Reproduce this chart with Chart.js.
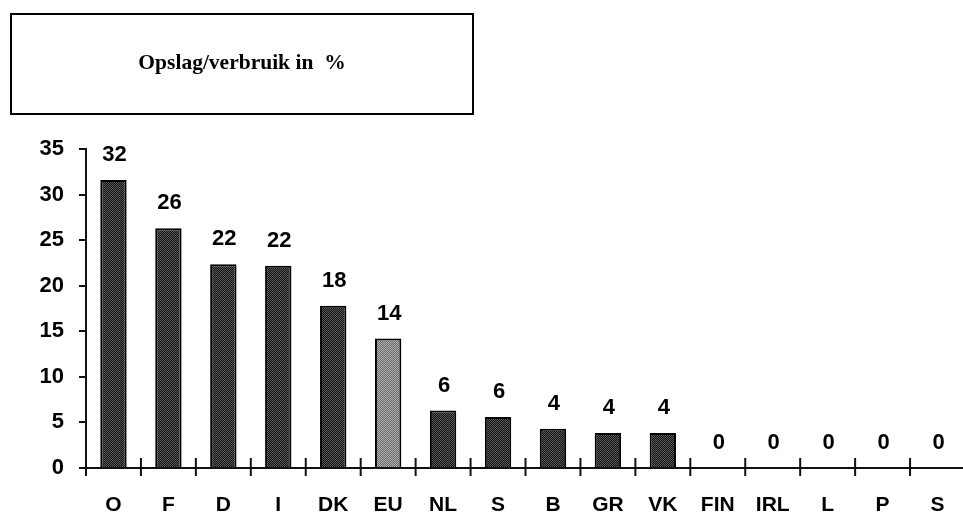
<!DOCTYPE html>
<html>
<head>
<meta charset="utf-8">
<script src="https://cdn.jsdelivr.net/npm/chart.js@4/dist/chart.umd.min.js"></script>
<style>
  html,body{margin:0;padding:0;background:#fff;overflow:hidden;}
  #wrap{position:absolute;left:0;top:0;width:990px;height:512px;}
  #titleBox{position:absolute;left:10px;top:13px;width:460px;height:94px;border:2px solid #000;
    display:flex;align-items:center;justify-content:center;padding-bottom:4px;box-sizing:content-box;
    font-family:"Liberation Serif","Times New Roman",serif;font-weight:bold;font-size:21.5px;color:#000;}
</style>
</head>
<body>
<div id="wrap"><canvas id="chartCanvas" width="990" height="512"></canvas></div>
<div id="titleBox">Opslag/verbruik in&nbsp; %</div>
<script>
// data
const categories = ['O','F','D','I','DK','EU','NL','S','B','GR','VK','FIN','IRL','L','P','S'];
const values     = [31.6, 26.3, 22.35, 22.2, 17.8, 14.2, 6.3, 5.6, 4.3, 3.85, 3.85, 0, 0, 0, 0, 0];
const valueLabels= ['32','26','22','22','18','14','6','6','4','4','4','0','0','0','0','0'];
const yTicks     = [0,5,10,15,20,25,30,35];
const highlight  = 'EU';

// dithered fill like the scanned original
function dither(a, b){
  const c = document.createElement('canvas');
  c.width = 2; c.height = 2;
  const g = c.getContext('2d');
  g.fillStyle = a; g.fillRect(0,0,2,2);
  g.fillStyle = b; g.fillRect(0,0,1,1); g.fillRect(1,1,1,1);
  return g.createPattern(c, 'repeat');
}
const darkFill  = dither('#111', '#5a5a5a');
const lightFill = dither('#6a6a6a', '#b0b0b0');

const FONT = '"Liberation Sans", Arial, sans-serif';

// tick marks crossing the x axis at category boundaries + value labels
const extras = {
  id: 'extras',
  afterDatasetsDraw(chart){
    const ctx = chart.ctx;
    const x = chart.scales.x, y = chart.scales.y;
    const y0 = y.getPixelForValue(0);
    const step = x.getPixelForValue(1) - x.getPixelForValue(0);
    ctx.save();
    ctx.strokeStyle = '#111';
    ctx.lineWidth = 2;
    for(let i = 0; i < categories.length; i++){
      const bx = x.getPixelForValue(i) - step/2;
      ctx.beginPath();
      ctx.moveTo(bx, y0 - 10);
      ctx.lineTo(bx, y0 + 8);
      ctx.stroke();
    }
    ctx.fillStyle = '#000';
    ctx.font = 'bold 22px ' + FONT;
    ctx.textAlign = 'center';
    ctx.textBaseline = 'middle';
    chart.getDatasetMeta(0).data.forEach((bar, i)=>{
      ctx.fillText(valueLabels[i], bar.x + 1, bar.y - 25);
    });
    ctx.restore();
  }
};

new Chart(document.getElementById('chartCanvas').getContext('2d'), {
  type: 'bar',
  data: {
    labels: categories,
    datasets: [{
      data: values,
      backgroundColor: categories.map(c => c === highlight ? lightFill : darkFill),
      borderColor: '#000',
      borderWidth: 2,
      barPercentage: 0.48,
      categoryPercentage: 1
    }]
  },
  options: {
    responsive: false,
    animation: false,
    layout: {padding: {top: 149, right: 25, left: 0, bottom: 0}},
    plugins: {legend: {display: false}, tooltip: {enabled: false}},
    scales: {
      x: {
        grid: {display: false},
        border: {color: '#111', width: 2, dash: [3,1]},
        ticks: {color: '#000', padding: 17, font: {family: FONT, weight: 'bold', size: 21}, maxRotation: 0, autoSkip: false},
        afterFit(s){ s.height = 44; }
      },
      y: {
        min: 0, max: 35,
        afterBuildTicks(s){ s.ticks = yTicks.map(v => ({value: v})); },
        grid: {drawOnChartArea: false, tickLength: 7, color: '#111', lineWidth: 2},
        border: {color: '#111', width: 2, dash: [3,1]},
        ticks: {color: '#000', padding: 15, font: {family: FONT, weight: 'bold', size: 22}},
        afterFit(s){ s.width = 86; }
      }
    }
  },
  plugins: [extras]
});
</script>
</body>
</html>
